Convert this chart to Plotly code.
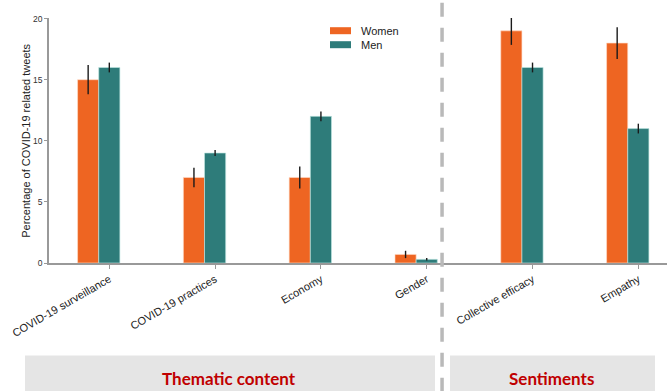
import plotly.graph_objects as go

# Categories and series
categories = ["COVID-19 surveillance", "COVID-19 practices", "Economy", "Gender",
              "Collective efficacy", "Empathy"]
women = [15, 7, 7, 0.7, 19, 18]
women_err = [1.2, 0.8, 0.9, 0.3, 1.15, 1.3]
men = [16, 9, 12, 0.3, 16, 11]
men_err = [0.4, 0.25, 0.4, 0.1, 0.4, 0.4]
y_ticks = [0, 5, 10, 15, 20]

ORANGE = "#EE6522"
TEAL = "#2E7C7A"
positions = list(range(len(categories)))

fig = go.Figure()
fig.add_trace(go.Bar(
    x=positions, y=women, name="Women", width=0.2, offset=-0.3,
    marker=dict(color=ORANGE, line=dict(color="rgba(255,220,200,0.8)", width=0.8)),
    error_y=dict(type="data", array=women_err, color="#1a1a1a", thickness=1.4, width=0),
))
fig.add_trace(go.Bar(
    x=positions, y=men, name="Men", width=0.2, offset=-0.1,
    marker=dict(color=TEAL, line=dict(color="rgba(190,230,225,0.8)", width=0.8)),
    error_y=dict(type="data", array=men_err, color="#1a1a1a", thickness=1.4, width=0),
))

axis_line = "#999999"
fig.update_xaxes(
    range=[-0.57, 5.271], tickvals=positions, ticktext=categories, tickangle=-30,
    showline=True, linecolor=axis_line, linewidth=1.5, ticks="outside", ticklen=4,
    tickcolor=axis_line, showgrid=False, zeroline=False,
    tickfont=dict(family="Liberation Sans, Arial, sans-serif", size=11, color="#222222"),
)
fig.update_yaxes(
    range=[0, 20.05], tickvals=y_ticks, showline=True, linecolor=axis_line, linewidth=1.5,
    ticks="outside", ticklen=3, tickcolor=axis_line, showgrid=False, zeroline=False,
    tickfont=dict(family="Liberation Sans, Arial, sans-serif", size=8.5, color="#333333"),
)

shapes = []
# Group separator
shapes.append(dict(type="line", xref="x", yref="paper", x0=3.145, x1=3.145,
                   y0=1.062, y1=-0.56,
                   line=dict(color="#B9B9B9", width=3.5, dash="14px,11px")))
# Group label panels
shapes.append(dict(type="rect", xref="paper", yref="paper", x0=-0.0388, x1=0.6246,
                   y0=-0.56, y1=-0.378, fillcolor="#E5E5E5", line=dict(width=0), layer="below"))
shapes.append(dict(type="rect", xref="paper", yref="paper", x0=0.6489, x1=0.9806,
                   y0=-0.56, y1=-0.378, fillcolor="#E5E5E5", line=dict(width=0), layer="below"))
# Legend swatches
for i, col in enumerate([ORANGE, TEAL]):
    yc = (263.3 - (31 + 14 * i)) / 245
    shapes.append(dict(type="rect", xref="paper", yref="paper",
                       x0=(330 - 49) / 618, x1=(351 - 49) / 618,
                       y0=yc - 3.5 / 245, y1=yc + 3.5 / 245,
                       fillcolor=col, line=dict(width=0)))

annotations = []
for i, name in enumerate(["Women", "Men"]):
    yc = (263.3 - (31 + 14 * i)) / 245
    annotations.append(dict(text=name, xref="paper", yref="paper", x=(359 - 49) / 618, y=yc,
                            xanchor="left", yanchor="middle", showarrow=False,
                            font=dict(family="Liberation Sans, Arial, sans-serif", size=11,
                                      color="#222222")))
annotations.append(dict(text="Percentage of COVID-19 related tweets", xref="paper", yref="paper",
                        x=(26 - 49) / 618, y=0.499, textangle=-90, xanchor="center",
                        yanchor="middle", showarrow=False,
                        font=dict(family="Liberation Sans, Arial, sans-serif", size=11,
                                  color="#222222")))
label_font = dict(family="Lato, Open Sans, sans-serif", size=17, color="#C00000")
annotations.append(dict(text="<b>Thematic content</b>", xref="paper", yref="paper",
                        x=(229 - 49) / 618, y=-0.472, xanchor="center", yanchor="middle",
                        showarrow=False, font=label_font))
annotations.append(dict(text="<b>Sentiments</b>", xref="paper", yref="paper",
                        x=(551.5 - 49) / 618, y=-0.472, xanchor="center", yanchor="middle",
                        showarrow=False, font=label_font))

fig.update_layout(
    width=667, height=391, margin=dict(l=49, r=0, t=18.3, b=127.7),
    paper_bgcolor="white", plot_bgcolor="white", showlegend=False,
    barmode="overlay", shapes=shapes, annotations=annotations,
)

fig.write_html("out.html")
